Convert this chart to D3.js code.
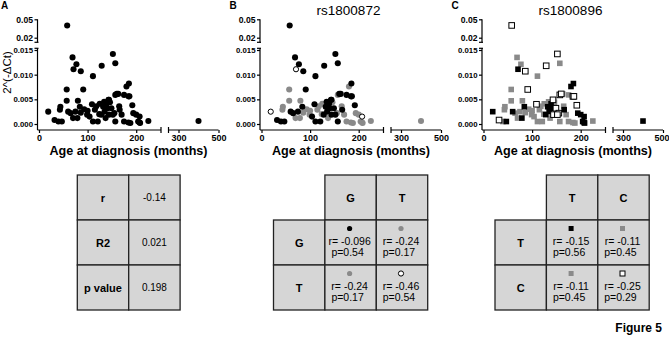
<html>
<head>
<script src="https://d3js.org/d3.v7.min.js"></script>
<style>
  body { margin: 0; background: #fff; }
  text { font-family: "Liberation Sans", Arial, sans-serif; }
</style>
</head>
<body></body>
<script>

    // data
    var ages = [58, 69, 77, 71, 86, 111, 129, 152, 157, 57, 91, 57, 80, 19, 44, 43, 32, 40, 47, 60,
        65, 75, 70, 79, 84, 86, 99, 104, 109, 111, 121, 125, 128, 132, 135, 139, 144, 141, 144, 149,
        155, 157, 163, 166, 170, 175, 180, 185, 184, 192, 194, 175, 184, 204, 207, 157, 152, 124, 115, 200,
        207, 225, 208, 188, 143, 134, 400, 160, 186, 146, 93, 100, 118, 137, 165];
    var values = [0.040, 0.0135, 0.0121, 0.0111, 0.0107, 0.0097, 0.0118, 0.0142, 0.0123, 0.0070, 0.0070, 0.0047, 0.0047, 0.0025, 0.0035, 0.0029, 0.0008, 0.0005, 0.0005, 0.0025,
        0.0022, 0.0025, 0.0012, 0.0012, 0.0035, 0.0023, 0.0019, 0.0015, 0.0040, 0.0005, 0.0005, 0.0041, 0.0019, 0.0035, 0.0025, 0.0041, 0.0049, 0.0032, 0.0019, 0.0032,
        0.0022, 0.0059, 0.0061, 0.0029, 0.0019, 0.0059, 0.0076, 0.0082, 0.0056, 0.0038, 0.0022, 0.0005, 0.0003, 0.0005, 0.0003, 0.0005, 0.0019, 0.0020, 0.0029, 0.0019,
        0.0015, 0.0006, 0.0002, 0.0002, 0.0049, 0.0045, 0.0006, 0.0061, 0.0056, 0.0044, 0.0030, 0.0027, 0.0036, 0.0012, 0.0036];
    var rs1800872 = ["GG", "GG", "GG", "TT", "GG", "GG", "GG", "GG", "GG", "GT", "GG", "GT", "GT", "TT", "GT", "GT", "GG", "GG", "GG", "GG",
        "GG", "GG", "GT", "GT", "GG", "GT", "GT", "GG", "GG", "GG", "GG", "GT", "GG", "GG", "GG", "GG", "GG", "GG", "GG", "GG",
        "GT", "GT", "GG", "GG", "GT", "GG", "GT", "GG", "GG", "GG", "GT", "GT", "GT", "GT", "GT", "GG", "GG", "GT", "GT", "GT",
        "TT", "GT", "GT", "GT", "GG", "GG", "GT", "GG", "GG", "GT", "GT", "GT", "GT", "GT", "GT"];
    var rs1800896 = ["CC", "TC", "TC", "TT", "CC", "TC", "CC", "CC", "TC", "TC", "CC", "TC", "TC", "TT", "TC", "TC", "CC", "TC", "TT", "TT",
        "TC", "TC", "TC", "TT", "TT", "TC", "TC", "TC", "CC", "TC", "TC", "TC", "TT", "TT", "TT", "TT", "TC", "TT", "CC", "CC",
        "CC", "CC", "TC", "TT", "TC", "TC", "TT", "TT", "CC", "CC", "TT", "TC", "TC", "TT", "TT", "TC", "CC", "TC", "TC", "TT",
        "TT", "TC", "TT", "TC", "CC", "TC", "TT", "CC", "CC", "TC", "TC", "TC", "TC", "TC", "TC"];

    var xTicksLeft = [0, 100, 200], xTicksRight = [300, 500];
    var yTicksLow = [0, 0.005, 0.010, 0.015], yTicksHigh = [0.02, 0.05];

    var panelLetters = ["A", "B", "C"];
    var panelTitles = ["", "rs1800872", "rs1800896"];

    // table A
    var statNames = ["r", "R2", "p value"];
    var statValues = ["-0.14", "0.021", "0.198"];
    // table B
    var allelesB = ["G", "T"];
    var rB = [["-0.096", "-0.24"], ["-0.24", "-0.46"]];
    var pB = [["0.54", "0.17"], ["0.17", "0.54"]];
    var genoB = [["GG", "GT"], ["GT", "TT"]];
    // table C
    var allelesC = ["T", "C"];
    var rC = [["-0.15", "-0.11"], ["-0.11", "-0.25"]];
    var pC = [["0.56", "0.45"], ["0.45", "0.29"]];
    var genoC = [["TT", "TC"], ["TC", "CC"]];

    var GRAY = "#8a8a8a";
    var styleB = { GG: { fill: "#000", stroke: "none" }, GT: { fill: GRAY, stroke: "none" }, TT: { fill: "#fff", stroke: "#000" } };
    var styleC = { TT: { fill: "#000", stroke: "none" }, TC: { fill: GRAY, stroke: "none" }, CC: { fill: "#fff", stroke: "#000" } };
    var drawOrder = { GT: 0, TC: 0, GG: 1, TT: 1, CC: 2 };

    var svg = d3.select("body").append("svg")
        .attr("width", 669).attr("height", 337);

    // scales (broken axes)
    var x1 = d3.scaleLinear().domain([0, 250]).range([39, 160.5]);
    var x2 = d3.scaleLinear().domain([250, 500]).range([168.5, 218.5]);
    var yLo = d3.scaleLinear().domain([0, 0.015]).range([124, 50]);
    var yHi = d3.scaleLinear().domain([0.02, 0.05]).range([37.7, 19.3]);
    var px = function (a) { return a <= 250 ? x1(a) : x2(a); };
    var py = function (v) { return v > 0.0155 ? yHi(v) : yLo(v); };

    var points = ages.map(function (a, i) {
        return { age: a, val: values[i], b: rs1800872[i], c: rs1800896[i] };
    });

    function styleAxis(g, size) {
        g.select(".domain").remove();
        g.selectAll("line").attr("stroke", "#000").attr("stroke-width", 1.2);
        g.selectAll("text").attr("font-family", "'Liberation Sans', Arial, sans-serif")
            .attr("font-weight", "bold").attr("font-size", size).attr("fill", "#000");
    }

    function line(g, xa, ya, xb, yb) {
        g.append("line").attr("x1", xa).attr("y1", ya).attr("x2", xb).attr("y2", yb)
            .attr("stroke", "#000").attr("stroke-width", 1.2);
    }

    function drawPanel(k, ox) {
        var g = svg.append("g").attr("transform", "translate(" + ox + ",0)");
        var ax = 37.5;

        // y axis
        g.append("g").attr("transform", "translate(" + ax + ",0)")
            .call(d3.axisLeft(yLo).tickValues(yTicksLow).tickFormat(d3.format(".3f")).tickSize(3).tickPadding(1.5))
            .call(styleAxis, 7.8);
        g.append("g").attr("transform", "translate(" + ax + ",0)")
            .call(d3.axisLeft(yHi).tickValues(yTicksHigh).tickFormat(d3.format(".2f")).tickSize(3).tickPadding(1.5))
            .call(styleAxis, 8.6);
        line(g, ax, 19.3, ax, 42.3);
        line(g, ax - 3, 42.3, ax + 1, 42.3);
        line(g, ax, 48.3, ax, 130);
        line(g, ax - 3, 48.3, ax + 1, 48.3);

        // x axis
        g.append("g").attr("transform", "translate(0,130)")
            .call(d3.axisBottom(x1).tickValues(xTicksLeft).tickSize(3).tickPadding(2))
            .call(styleAxis, 9);
        var gx2 = g.append("g").attr("transform", "translate(0,130)")
            .call(d3.axisBottom(x2).tickValues(xTicksRight).tickSize(3).tickPadding(2))
            .call(styleAxis, 9);
        if (k == 2) gx2.selectAll("text").filter(function (d) { return d == 500; }).attr("dx", -1.5);
        line(g, ax, 130, 161, 130);
        line(g, 161, 127, 161, 133);
        line(g, 168.5, 130, 218.5, 130);
        line(g, 168.5, 127, 168.5, 133);

        g.append("text").attr("x", 128.5).attr("y", 155)
            .attr("text-anchor", "middle").attr("font-weight", "bold").attr("font-size", 12.6)
            .text("Age at diagnosis (months)");

        // letter + title
        svg.append("text").attr("x", ox + 1 + (k == 0 ? 0 : 6)).attr("y", 8.5)
            .attr("font-weight", "bold").attr("font-size", 10).text(panelLetters[k]);
        if (panelTitles[k]) {
            svg.append("text").attr("x", ox + 126).attr("y", 15)
                .attr("text-anchor", "middle").attr("font-size", 13.5).text(panelTitles[k]);
        }

        // points
        var pts = points.slice();
        if (k == 1) pts.sort(function (a, b) { return drawOrder[a.b] - drawOrder[b.b]; });
        if (k == 2) pts.sort(function (a, b) { return drawOrder[a.c] - drawOrder[b.c]; });

        if (k < 2) {
            g.append("g").selectAll("circle").data(pts).join("circle")
                .attr("cx", function (d) { return px(d.age); })
                .attr("cy", function (d) { return py(d.val); })
                .attr("r", function (d) { return (k == 1 && d.b == "TT") ? 2.6 : 3.05; })
                .attr("fill", function (d) { return k == 0 ? "#000" : styleB[d.b].fill; })
                .attr("stroke", function (d) { return k == 0 ? "none" : styleB[d.b].stroke; })
                .attr("stroke-width", 1);
        } else {
            g.append("g").selectAll("rect").data(pts).join("rect")
                .attr("x", function (d) { return px(d.age) - 2.8; })
                .attr("y", function (d) { return py(d.val) - 2.8; })
                .attr("width", 5.6).attr("height", 5.6)
                .attr("fill", function (d) { return styleC[d.c].fill; })
                .attr("stroke", function (d) { return styleC[d.c].stroke; })
                .attr("stroke-width", 1);
        }
    }

    drawPanel(0, 0);
    drawPanel(1, 222.5);
    drawPanel(2, 444.5);

    // y axis label
    svg.append("text").attr("transform", "translate(11,72.5) rotate(-90)")
        .attr("text-anchor", "middle").attr("font-size", 11.5).text("2^(-\u0394Ct)");

    // tables
    var CELL_FILL = "#d6d6d6";
    function cell(x, y, w, h) {
        svg.append("rect").attr("x", x).attr("y", y).attr("width", w).attr("height", h)
            .attr("fill", CELL_FILL).attr("stroke", "#222").attr("stroke-width", 1.3);
    }

    var cw = 51.4, ch = 45;

    // table A
    statNames.forEach(function (s, i) {
        var y = 175 + i * ch;
        cell(77.3, y, cw, ch);
        cell(77.3 + cw, y, cw, ch);
        svg.append("text").attr("x", 77.3 + cw / 2).attr("y", y + ch / 2 + 4)
            .attr("text-anchor", "middle").attr("font-weight", "bold").attr("font-size", 11).text(s);
        svg.append("text").attr("x", 77.3 + cw * 1.5).attr("y", y + ch / 2 + 3.5)
            .attr("text-anchor", "middle").attr("font-size", 10).text(statValues[i]);
    });

    function genoTable(x0, alleles, rv, pv, geno, shape, styles) {
        alleles.forEach(function (a, j) {
            var x = x0 + cw * (j + 1);
            cell(x, 175, cw, ch);
            svg.append("text").attr("x", x + cw / 2).attr("y", 175 + ch / 2 + 4)
                .attr("text-anchor", "middle").attr("font-weight", "bold").attr("font-size", 11).text(a);
        });
        alleles.forEach(function (a, i) {
            var y = 175 + ch * (i + 1);
            cell(x0, y, cw, ch);
            svg.append("text").attr("x", x0 + cw / 2).attr("y", y + ch / 2 + 4)
                .attr("text-anchor", "middle").attr("font-weight", "bold").attr("font-size", 11).text(a);
            alleles.forEach(function (b, j) {
                var x = x0 + cw * (j + 1);
                cell(x, y, cw, ch);
                var st = styles[geno[i][j]];
                var cx = x + cw / 2 - 1;
                if (shape == "circle") {
                    svg.append("circle").attr("cx", cx).attr("cy", y + 8.5).attr("r", 2.6)
                        .attr("fill", st.fill).attr("stroke", st.stroke).attr("stroke-width", 1);
                } else {
                    svg.append("rect").attr("x", cx - 2.5).attr("y", y + 6).attr("width", 5).attr("height", 5)
                        .attr("fill", st.fill).attr("stroke", st.stroke).attr("stroke-width", 1);
                }
                svg.append("text").attr("x", cx).attr("y", y + 25)
                    .attr("text-anchor", "middle").attr("font-size", 10.5).text("r= " + rv[i][j]);
                svg.append("text").attr("x", cx - 2).attr("y", y + 36)
                    .attr("text-anchor", "middle").attr("font-size", 10.5).text("p=" + pv[i][j]);
            });
        });
    }

    genoTable(273.5, allelesB, rB, pB, genoB, "circle", styleB);
    genoTable(495, allelesC, rC, pC, genoC, "square", styleC);

    svg.append("text").attr("x", 662).attr("y", 332)
        .attr("text-anchor", "end").attr("font-weight", "bold").attr("font-size", 12).text("Figure 5");

</script>
</html>
